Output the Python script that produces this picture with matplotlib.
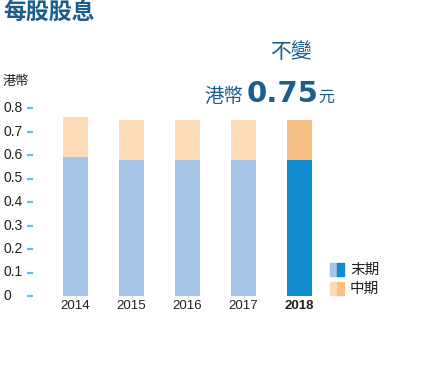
import matplotlib.pyplot as plt
from matplotlib.patches import Rectangle
from matplotlib import transforms

plt.rcParams['font.family'] = ['Noto Sans CJK TC', 'DejaVu Sans']

# 數據
years = ['2014', '2015', '2016', '2017', '2018']
final_div = [0.59, 0.58, 0.58, 0.58, 0.58]     # 末期
interim_div = [0.17, 0.17, 0.17, 0.17, 0.17]   # 中期
yticks = [0, 0.1, 0.2, 0.3, 0.4, 0.5, 0.6, 0.7, 0.8]

W, H = 432, 380
fig = plt.figure(figsize=(W / 100, H / 100), dpi=100)

def fx(px):
    return px / W

def fy(py):
    return 1 - py / H

# 軸區域: 左40 右330, 下296 上108 (像素)
ax = fig.add_axes([fx(40), fy(296), fx(290), fy(108) - fy(296)])
ax.set_xlim(-0.634, 4.545)
ax.set_ylim(0, 0.8)

light_blue, dark_blue = '#A4C4E8', '#0F8BD0'
light_org, dark_org = '#FCDBB6', '#F8C286'
title_c = '#1B5E8C'
txt_c = '#231F20'
num_font = ['Liberation Sans', 'DejaVu Sans']

x = list(range(len(years)))
c_final = [light_blue] * 4 + [dark_blue]
c_int = [light_org] * 4 + [dark_org]
ax.bar(x, final_div, width=0.45, color=c_final, clip_on=False)
ax.bar(x, interim_div, width=0.45, bottom=final_div, color=c_int, clip_on=False)

for s in ax.spines.values():
    s.set_visible(False)

ax.set_xticks(x)
ax.set_xticklabels(years, fontsize=9.5, color=txt_c, family=num_font)
ax.xaxis.get_ticklabels()[-1].set_fontweight('bold')
ax.tick_params(axis='x', length=0, pad=3)

# y軸刻度(淺藍短線)
ax.spines['left'].set_position(('outward', 5))
ax.set_yticks(yticks)
ax.set_yticklabels([])
ax.tick_params(axis='y', length=4.3, width=1.6, color='#5BC0EB')

tr = transforms.blended_transform_factory(fig.transFigure, ax.transData)
for v in yticks:
    lab = '0' if v == 0 else f'{v:.1f}'
    ax.text(fx(3), v, lab, transform=tr, ha='left', va='center',
            fontsize=10, color=txt_c, family=num_font)

fig.text(fx(3), fy(82), '港幣', fontsize=9.5, color=txt_c, va='center', ha='left')

# 標題
fig.text(fx(3), fy(12), '每股股息', fontsize=16.5, fontweight='bold',
         color=title_c, va='center', ha='left')

# 註釋
fig.text(fx(291), fy(52), '不變', fontsize=15, color=title_c, ha='center', va='center')
fig.text(fx(204), fy(102), '港幣', fontsize=14, color=title_c, ha='left', va='baseline')
fig.text(fx(247), fy(102), '0.75', fontsize=21, fontweight='bold', color=title_c,
         ha='left', va='baseline', family=['DejaVu Sans'])
fig.text(fx(318), fy(102), '元', fontsize=11.5, color=title_c, ha='left', va='baseline')

# 圖例
for py, c1, c2, lab in [(263, light_blue, dark_blue, '末期'),
                        (282, light_org, dark_org, '中期')]:
    fig.patches.append(Rectangle((fx(330), fy(py + 13)), fx(7), fy(py) - fy(py + 13),
                                 color=c1, transform=fig.transFigure))
    fig.patches.append(Rectangle((fx(337), fy(py + 13)), fx(7), fy(py) - fy(py + 13),
                                 color=c2, transform=fig.transFigure))
    fig.text(fx(350), fy(py + 6.5), lab, fontsize=10.5, color=txt_c, va='center', ha='left')

fig.savefig('out.png', dpi=100)
